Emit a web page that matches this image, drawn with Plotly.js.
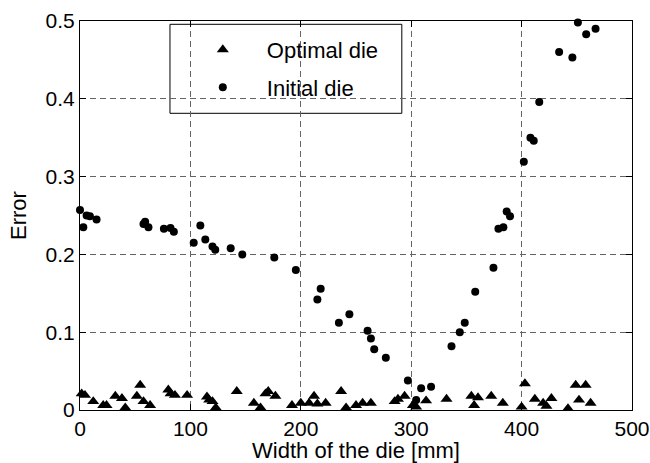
<!DOCTYPE html>
<html>
<head>
<meta charset="utf-8">
<script src="https://cdn.plot.ly/plotly-3.0.1.min.js"></script>
<style>html,body{margin:0;padding:0;background:#fff;}#chart{width:650px;height:463px;}</style>
</head>
<body>
<div id="chart"></div>
<script>
// Optimal die (triangles)
var optimalX = [1.5, 4.5, 12, 21, 24, 32, 38, 41, 51.5, 54.5, 57.5, 63.5, 80, 82, 86, 97, 115, 117, 120, 123, 142, 157.5, 163.5, 168, 170.5, 177, 192, 200, 207.5, 212, 215, 222.5, 236.5, 241, 250, 256, 263.5, 285, 288, 294, 301.5, 304.5, 313.5, 332, 354.5, 357, 360.5, 372.5, 383, 400, 403, 412, 419.5, 422.5, 427, 442, 449, 452, 458, 462.5];
var optimalY = [0.021, 0.019, 0.011, 0.006, 0.006, 0.018, 0.015, 0.003, 0.018, 0.032, 0.011, 0.006, 0.026, 0.021, 0.019, 0.019, 0.017, 0.013, 0.011, 0.003, 0.024, 0.009, 0.003, 0.021, 0.024, 0.018, 0.006, 0.009, 0.009, 0.018, 0.008, 0.009, 0.024, 0.003, 0.006, 0.009, 0.009, 0.011, 0.014, 0.018, 0.006, 0.004, 0.012, 0.014, 0.018, 0.006, 0.016, 0.018, 0.009, 0.004, 0.034, 0.014, 0.009, 0.005, 0.015, 0.002, 0.032, 0.013, 0.032, 0.009];
// Initial die (circles)
var initialX = [0, 3, 6, 9, 15, 57.5, 59, 62, 76, 82, 85, 103, 109, 113.5, 120, 122.5, 136.5, 147, 176, 195.5, 215, 218, 234.5, 244, 260.5, 263.5, 266.5, 277, 297, 304.5, 309, 318, 336.5, 344, 348.5, 358, 374.5, 379, 383.5, 386.5, 389.5, 402, 408, 411, 416, 434, 446, 451, 458.5, 467];
var initialY = [0.257, 0.235, 0.250, 0.249, 0.245, 0.239, 0.242, 0.235, 0.233, 0.234, 0.229, 0.215, 0.237, 0.219, 0.210, 0.206, 0.208, 0.200, 0.196, 0.180, 0.142, 0.156, 0.112, 0.123, 0.102, 0.092, 0.078, 0.067, 0.038, 0.013, 0.028, 0.030, 0.082, 0.100, 0.112, 0.152, 0.183, 0.233, 0.235, 0.255, 0.249, 0.319, 0.350, 0.346, 0.396, 0.460, 0.453, 0.498, 0.483, 0.490];
var seriesNames = ['Optimal die', 'Initial die'];
var xTitle = 'Width of the die [mm]';
var yTitle = 'Error';

var FONT = 'Liberation Sans, Arial, sans-serif';
var traces = [
  {x: optimalX, y: optimalY, type: 'scatter', mode: 'markers', name: seriesNames[0], legendgroup: 'a',
   marker: {symbol: 'triangle-up', size: 10.5, color: '#000'}, cliponaxis: false},
  {x: initialX, y: initialY, type: 'scatter', mode: 'markers', name: seriesNames[1], legendgroup: 'b',
   marker: {symbol: 'circle', size: 8, color: '#000'}, cliponaxis: false}
];
var gridCol = 'rgb(100,100,100)';
var layout = {
  width: 650, height: 463,
  margin: {l: 80, r: 18, t: 21, b: 53},
  paper_bgcolor: '#fff', plot_bgcolor: '#fff',
  font: {family: FONT, size: 21, color: '#000'},
  showlegend: true,
  legend: {x: 0.179, y: 0.98, xanchor: 'left', yanchor: 'top', bgcolor: 'rgba(0,0,0,0)', borderwidth: 0,
           itemwidth: 78, traceorder: 'grouped', tracegroupgap: 6, font: {family: FONT, size: 22, color: '#000'}},
  xaxis: {range: [0, 500], dtick: 100, tick0: 0, showgrid: true, gridcolor: gridCol, griddash: '6px,4px', gridwidth: 1,
          zeroline: false, showline: true, linecolor: '#000', linewidth: 1, mirror: 'ticks',
          ticks: 'inside', ticklen: 6, tickcolor: '#000', tickfont: {family: FONT, size: 21},
          title: {text: xTitle, font: {family: FONT, size: 22}, standoff: 2}},
  yaxis: {range: [0, 0.5], dtick: 0.1, tick0: 0, showgrid: true, gridcolor: gridCol, griddash: '6px,4px', gridwidth: 1,
          zeroline: false, showline: true, linecolor: '#000', linewidth: 1, mirror: 'ticks',
          ticks: 'inside', ticklen: 6, tickcolor: '#000', tickfont: {family: FONT, size: 21},
          title: {text: yTitle, font: {family: FONT, size: 22}, standoff: 12}},
  shapes: [
    {type: 'rect', xref: 'paper', yref: 'paper', x0: 0.163, x1: 0.583, y0: 0.7627, y1: 0.9915,
     line: {color: '#000', width: 1}, fillcolor: '#fff', layer: 'below'}
  ]
};
Plotly.newPlot('chart', traces, layout, {displayModeBar: false, staticPlot: true});
</script>
</body>
</html>
